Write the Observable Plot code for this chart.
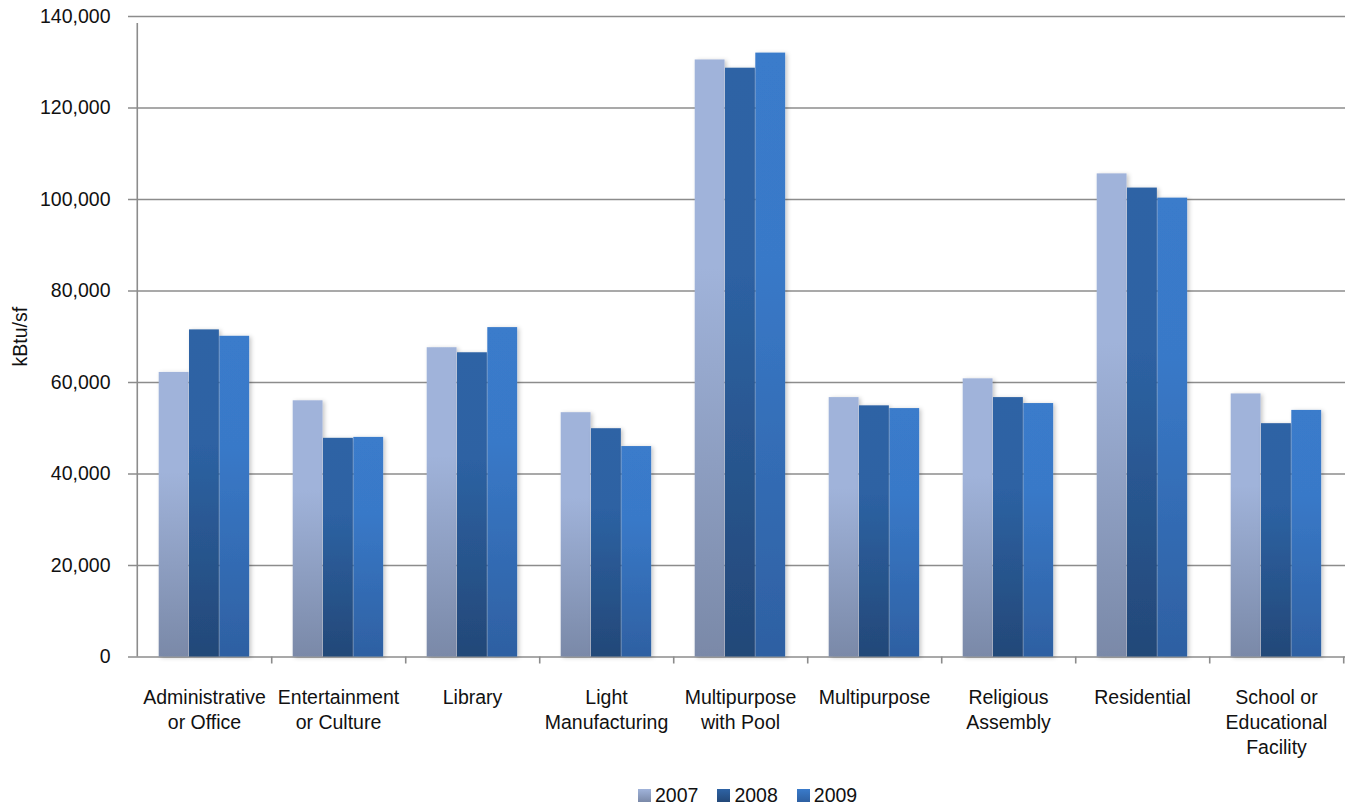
<!DOCTYPE html>
<html><head><meta charset="utf-8">
<script src="https://cdn.jsdelivr.net/npm/d3@7"></script>
<script src="https://cdn.jsdelivr.net/npm/@observablehq/plot@0.6"></script>
<style>
body{margin:0;background:#fff;font-family:"Liberation Sans",Arial,sans-serif;}
#wrap{position:relative;width:1351px;height:811px;}
#legend{position:absolute;left:638px;top:784px;display:flex;align-items:center;font-size:19.5px;color:#111;}
.item{display:flex;align-items:center;margin-right:19px;}
.item svg{margin-right:4px;}
</style></head><body><div id="wrap"><div id="chart"></div><div id="legend"></div></div>
<script>
const categories = ["Administrative or Office","Entertainment or Culture","Library","Light Manufacturing","Multipurpose with Pool","Multipurpose","Religious Assembly","Residential","School or Educational Facility"];
const categoryLabels = ["Administrative\nor Office","Entertainment\nor Culture","Library","Light\nManufacturing","Multipurpose\nwith Pool","Multipurpose","Religious\nAssembly","Residential","School or\nEducational\nFacility"];
const years = ["2007","2008","2009"];
const values2007 = [62200, 56000, 67600, 53400, 130500, 56700, 60800, 105600, 57500];
const values2008 = [71500, 47800, 66500, 49900, 128700, 54900, 56700, 102500, 51000];
const values2009 = [70100, 48000, 72000, 46000, 132000, 54300, 55400, 100300, 53900];
const yTicks = [0, 20000, 40000, 60000, 80000, 100000, 120000, 140000];

const seriesValues = {"2007": values2007, "2008": values2008, "2009": values2009};
const gradients = {
  "2007": ["#a0b3da", "#a0b3da", "#7a89a8"],
  "2008": ["#2e63a5", "#2d62a3", "#234878"],
  "2009": ["#3a7bcb", "#3979c8", "#2e60a2"]
};
const data = years.flatMap(yr => categories.map((c, i) => ({category: c, year: yr, value: seriesValues[yr][i]})));
const labelOf = new Map(categories.map((c, i) => [c, categoryLabels[i]]));

const W = 1351, H = 775, mL = 135, mR = 6, mT = 16, mB = 118.5;
const step = (W - mL - mR) / categories.length;
const outer = 21.7, bw = 30.3;

const barMarks = years.map((yr, i) => Plot.barY(data.filter(d => d.year === yr), {
  x: "category", y: "value", fill: `url(#g${yr})`,
  insetLeft: outer + bw * i, insetRight: step - outer - bw * (i + 1)
}));

const svg = Plot.plot({
  width: W, height: H, marginLeft: mL, marginRight: mR, marginTop: mT, marginBottom: mB,
  style: {fontFamily: '"Liberation Sans",Arial,sans-serif', fontSize: "19.5px", color: "#111", background: "#fff"},
  x: {domain: categories, padding: 0, axis: null},
  y: {domain: [0, 140000], axis: null},
  marks: [
    Plot.ruleY(yTicks, {stroke: "#8c8c8c", strokeWidth: 1.6, insetLeft: -7}),
    ...barMarks,
    Plot.ruleX([categories[0]], {x: d => d, dx: -step / 2, y1: 0, y2: 140000, stroke: "#8c8c8c", strokeWidth: 1.6, insetBottom: -7}),
    Plot.ruleX(categories, {x: d => d, dx: step / 2, y1: 0, y2: 0, stroke: "#8c8c8c", strokeWidth: 1.6, insetBottom: -7}),
    Plot.axisY(yTicks, {tickSize: 0, tickPadding: 25, tickFormat: d3.format(","), label: "kBtu/sf", labelAnchor: "center", labelArrow: "none", labelOffset: 122}),
    Plot.axisX({tickSize: 0, tickPadding: 29, tickFormat: d => labelOf.get(d), lineHeight: 1.28, label: null})
  ]
});

const defs = d3.select(svg).insert("defs", ":first-child");
for (const yr of years) {
  const g = defs.append("linearGradient").attr("id", "g" + yr).attr("x1", 0).attr("y1", 0).attr("x2", 0).attr("y2", 1);
  const c = gradients[yr];
  g.append("stop").attr("offset", "0%").attr("stop-color", c[0]);
  g.append("stop").attr("offset", "35%").attr("stop-color", c[1]);
  g.append("stop").attr("offset", "100%").attr("stop-color", c[2]);
}
const f = defs.append("filter").attr("id", "shadow").attr("x", "-20%").attr("y", "-5%").attr("width", "150%").attr("height", "115%");
f.append("feDropShadow").attr("dx", 2).attr("dy", 1).attr("stdDeviation", 2).attr("flood-color", "#000").attr("flood-opacity", 0.22);
d3.select(svg).selectAll("g[aria-label='bar'] rect").attr("filter", "url(#shadow)");

document.getElementById("chart").appendChild(svg);

const legend = d3.select("#legend");
for (const yr of years) {
  const it = legend.append("div").attr("class", "item");
  const s = it.append("svg").attr("width", 13).attr("height", 13);
  const gd = s.append("defs").append("linearGradient").attr("id", "lg" + yr).attr("x1", 0).attr("y1", 0).attr("x2", 0).attr("y2", 1);
  gd.append("stop").attr("offset", "0%").attr("stop-color", gradients[yr][0]);
  gd.append("stop").attr("offset", "100%").attr("stop-color", gradients[yr][2]);
  s.append("rect").attr("width", 13).attr("height", 13).attr("fill", `url(#lg${yr})`);
  it.append("span").text(yr);
}
</script></body></html>
